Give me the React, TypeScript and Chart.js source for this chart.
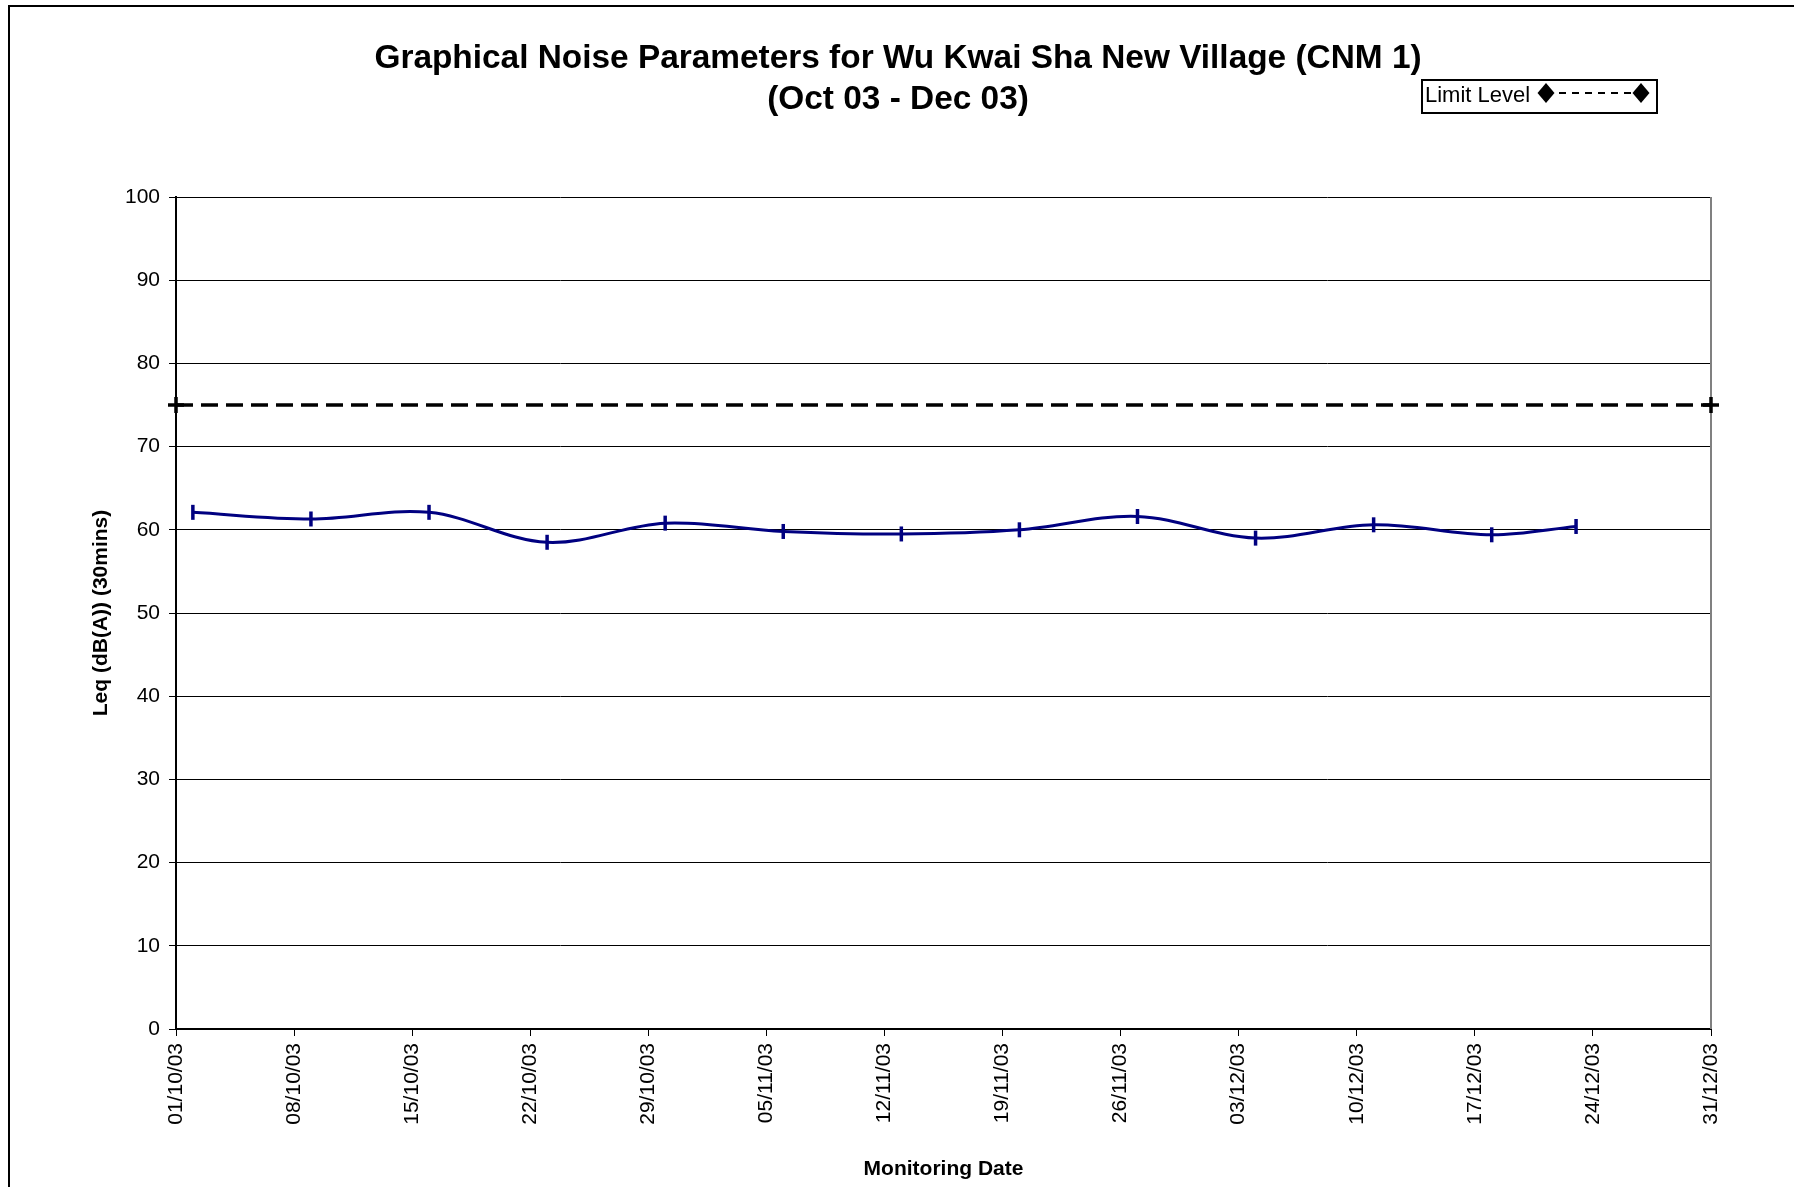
import React, { useEffect, useRef } from "react";
import { Chart, registerables } from "chart.js";

Chart.register(...registerables);

const chartTitleLines = [
  "Graphical Noise Parameters for Wu Kwai Sha New Village (CNM 1)",
  "(Oct 03 - Dec 03)",
];
const yAxisTitle = "Leq (dB(A)) (30mins)";
const xAxisTitle = "Monitoring Date";
const limitLabel = "Limit Level";
const seriesLabel = "Leq (30mins)";

const monitoringDates = [
  "02/10/03", "09/10/03", "16/10/03", "23/10/03", "30/10/03", "06/11/03", "13/11/03",
  "20/11/03", "27/11/03", "04/12/03", "11/12/03", "18/12/03", "23/12/03",
];
const leqValues = [62.1, 61.3, 62.1, 58.5, 60.8, 59.8, 59.5, 60.0, 61.6, 59.0, 60.6, 59.4, 60.4];

const limitDates = ["01/10/03", "31/12/03"];
const limitValues = [75, 75];

const xTickLabels = [
  "01/10/03", "08/10/03", "15/10/03", "22/10/03", "29/10/03", "05/11/03", "12/11/03",
  "19/11/03", "26/11/03", "03/12/03", "10/12/03", "17/12/03", "24/12/03", "31/12/03",
];
const yTickMin = 0;
const yTickMax = 100;
const yTickStep = 10;
const xTickStepDays = 7;

const FONT = '"Liberation Sans", Arial, Helvetica, sans-serif';

function dayOffset(s: string): number {
  const [d, m, y] = s.split("/").map(Number);
  const base = Date.UTC(2003, 9, 1);
  return Math.round((Date.UTC(2000 + y, m - 1, d) - base) / 86400000);
}

const decorPlugin = {
  id: "decor",
  beforeDraw(chart: any) {
    const ctx = chart.ctx;
    ctx.save();
    ctx.fillStyle = "#ffffff";
    ctx.fillRect(0, 0, chart.width, chart.height);
    ctx.strokeStyle = "#000000";
    ctx.lineWidth = 2;
    ctx.beginPath();
    ctx.moveTo(9, chart.height);
    ctx.lineTo(9, 6);
    ctx.lineTo(chart.width, 6);
    ctx.stroke();
    ctx.restore();
  },
  beforeDatasetsDraw(chart: any) {
    const { ctx, chartArea } = chart;
    ctx.save();
    ctx.strokeStyle = "#808080";
    ctx.lineWidth = 2;
    ctx.beginPath();
    ctx.moveTo(chartArea.right, chartArea.top);
    ctx.lineTo(chartArea.right, chartArea.bottom);
    ctx.stroke();
    ctx.restore();
  },
  afterDraw(chart: any) {
    const ctx = chart.ctx;
    ctx.save();
    // Title
    ctx.fillStyle = "#000000";
    ctx.font = `bold 33.4px ${FONT}`;
    ctx.textAlign = "center";
    ctx.textBaseline = "middle";
    ctx.fillText(chartTitleLines[0], 898, 59);
    ctx.fillText(chartTitleLines[1], 898, 100);

    // Legend
    const bx = 1422, by = 80, bw = 235, bh = 33;
    ctx.fillStyle = "#ffffff";
    ctx.fillRect(bx, by, bw, bh);
    ctx.strokeStyle = "#000000";
    ctx.lineWidth = 2;
    ctx.strokeRect(bx, by, bw, bh);
    ctx.fillStyle = "#000000";
    ctx.font = `22px ${FONT}`;
    ctx.textAlign = "left";
    ctx.textBaseline = "middle";
    ctx.fillText(limitLabel, 1425, 96);
    const ly = 93;
    const x1 = 1546, x2 = 1641;
    ctx.lineWidth = 2;
    ctx.setLineDash([7, 6]);
    ctx.beginPath();
    ctx.moveTo(x1, ly);
    ctx.lineTo(x2, ly);
    ctx.stroke();
    ctx.setLineDash([]);
    for (const cx of [x1, x2]) {
      ctx.beginPath();
      ctx.moveTo(cx, ly - 10);
      ctx.lineTo(cx + 8.5, ly);
      ctx.lineTo(cx, ly + 10);
      ctx.lineTo(cx - 8.5, ly);
      ctx.closePath();
      ctx.fill();
    }
    ctx.restore();
  },
};

export default function App() {
  const canvasRef = useRef<HTMLCanvasElement | null>(null);

  useEffect(() => {
    if (!canvasRef.current) return;
    const seriesData = monitoringDates.map((d, i) => ({ x: dayOffset(d), y: leqValues[i] }));
    const limitData = limitDates.map((d, i) => ({ x: dayOffset(d), y: limitValues[i] }));
    const xMin = dayOffset(xTickLabels[0]);
    const xMax = dayOffset(xTickLabels[xTickLabels.length - 1]);

    const chart = new Chart(canvasRef.current, {
      type: "line",
      data: {
        datasets: [
          {
            label: seriesLabel,
            data: seriesData,
            borderColor: "#000080",
            backgroundColor: "#000080",
            borderWidth: 3,
            tension: 0.35,
            pointStyle: "line",
            pointRotation: 90,
            pointRadius: 7.5,
            pointBorderWidth: 3.5,
            pointBorderColor: "#000080",
            fill: false,
            clip: false,
          },
          {
            label: limitLabel,
            data: limitData,
            borderColor: "#000000",
            backgroundColor: "#000000",
            borderWidth: 3.5,
            borderDash: [17, 8],
            tension: 0,
            pointStyle: "cross",
            pointRadius: 8,
            pointBorderWidth: 3.5,
            pointBorderColor: "#000000",
            fill: false,
            clip: false,
          },
        ],
      },
      options: {
        responsive: false,
        animation: false,
        events: [],
        layout: { padding: { top: 197, right: 83, bottom: 0, left: 0 } },
        plugins: {
          legend: { display: false },
          tooltip: { enabled: false },
          title: { display: false },
        },
        scales: {
          x: {
            type: "linear",
            min: xMin,
            max: xMax,
            afterFit(scale: any) {
              scale.height = 158;
            },
            afterBuildTicks(scale: any) {
              scale.ticks = xTickLabels.map((_, i) => ({ value: xMin + i * xTickStepDays }));
            },
            ticks: {
              autoSkip: false,
              maxRotation: 90,
              minRotation: 90,
              padding: 7,
              color: "#000000",
              font: { family: FONT, size: 21 },
              callback: (_v: any, i: number) => xTickLabels[i],
            },
            grid: {
              drawOnChartArea: false,
              drawTicks: true,
              tickLength: 7,
              color: "#000000",
              lineWidth: 1,
            },
            border: { display: true, color: "#000000", width: 2 },
            title: {
              display: true,
              text: xAxisTitle,
              color: "#000000",
              font: { family: FONT, size: 21, weight: "bold" },
              padding: { top: 0, bottom: 5.4 },
            },
          },
          y: {
            type: "linear",
            min: yTickMin,
            max: yTickMax,
            afterFit(scale: any) {
              scale.width = 176;
            },
            ticks: {
              stepSize: yTickStep,
              padding: 9,
              color: "#000000",
              font: { family: FONT, size: 21 },
            },
            grid: {
              drawOnChartArea: true,
              drawTicks: true,
              tickLength: 7,
              color: "#000000",
              lineWidth: 1,
            },
            border: { display: true, color: "#000000", width: 2 },
            title: {
              display: true,
              text: yAxisTitle,
              color: "#000000",
              font: { family: FONT, size: 21, weight: "bold" },
              padding: { top: 88.4, bottom: 0 },
            },
          },
        },
      },
      plugins: [decorPlugin],
    } as any);

    return () => chart.destroy();
  }, []);

  return (
    <div style={{ position: "absolute", left: 0, top: 0, width: 1794, height: 1187 }}>
      <canvas ref={canvasRef} width={1794} height={1187} style={{ display: "block" }} />
    </div>
  );
}
